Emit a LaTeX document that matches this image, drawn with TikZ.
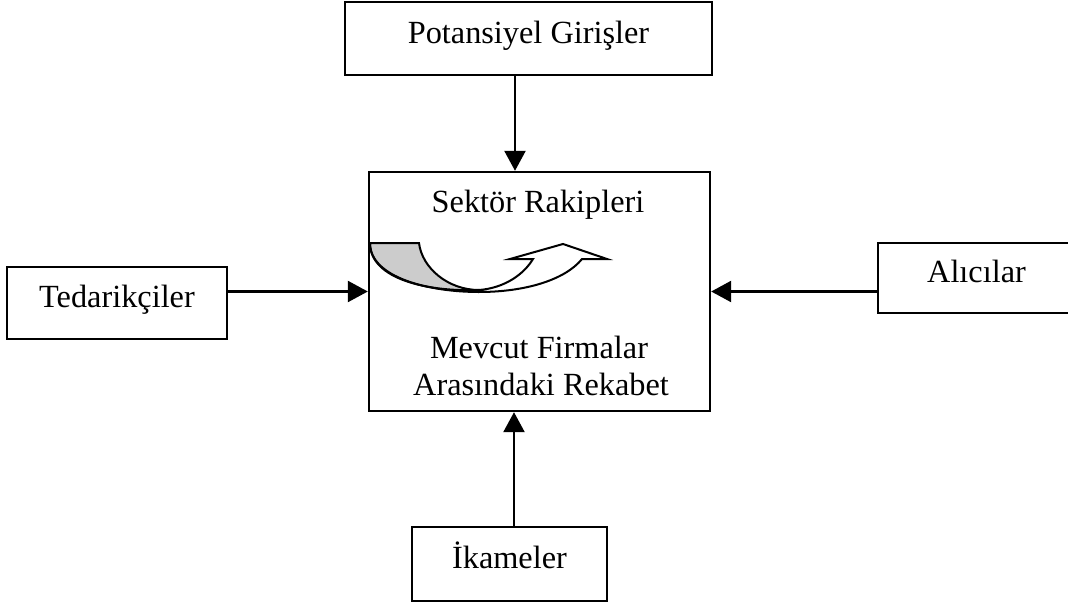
\documentclass[tikz,border=0pt]{standalone}
\usepackage{fontspec}
\setmainfont{Liberation Serif}
\usetikzlibrary{arrows.meta,calc}

\tikzset{
  force/.style={draw, line width=2.4pt, inner sep=0pt,
    text height=22pt, text depth=12.8pt},
  link/.style={line width=2.4pt, -{Triangle[length=20pt,width=21pt]}},
  body/.style={anchor=base},
  band/.style={draw, line width=2pt, line join=miter}
}

\begin{document}
\begin{tikzpicture}[x=1pt, y=-1pt, font=\fontsize{32.3}{36}\selectfont]
  \useasboundingbox (0,0) rectangle (1068,604);
  \fill[white] (0,0) rectangle (1068,604);

  % the five forces
  \node[force, minimum width=367pt, minimum height=73pt] (entry) at (528.5,38.5) {Potansiyel Girişler};
  \node[force, minimum width=341pt, minimum height=239pt] (rivals) at (539.5,291.5) {};
  \node[force, minimum width=220pt, minimum height=72pt] (supply) at (117,303) {Tedarikçiler};
  \node[force, minimum width=197pt, minimum height=70pt] (buyers) at (976.5,278) {Alıcılar};
  \node[force, minimum width=195pt, minimum height=74pt] (subst) at (509.5,564) {İkameler};

  % texts of the central box
  \node[body] (rtitle) at (538,212) {Sektör Rakipleri};
  \node[body] (rline1) at (539,358) {Mevcut Firmalar};
  \node[body] (rline2) at (541,395) {Arasındaki Rekabet};

  % curved arrow inside the central box
  \coordinate (ca) at (370,243);
  \coordinate (cb) at (419,243);
  \coordinate (cbot) at (479,292);
  \coordinate (cmeet) at (479,290);
  \coordinate (cin) at (533,259);
  \coordinate (cbarbl) at (510,259);
  \coordinate (capex) at (563,244);
  \coordinate (ctip) at (607,259);
  \coordinate (cout) at (582,259);

  \path[band, fill=gray!40]
    (ca) -- (cb) .. controls (422,268) and (448,290) .. (cmeet)
    .. controls (430,292) and (370,280) .. (ca) -- cycle;
  \path[band, fill=white]
    (cmeet) .. controls (505,288) and (524,274) .. (cin)
    -- (cbarbl) -- (capex) -- (ctip) -- (cout)
    .. controls (565,280) and (525,292) .. (cbot)
    -- cycle;
  \draw[band] (ca) .. controls (370,278) and (430,292) .. (cbot);

  % influences on the rivalry
  \coordinate (vtop) at (515,0);
  \coordinate (vbot) at (514,0);
  \draw[link] (entry.south -| vtop) -- (rivals.north -| vtop);
  \draw[link] (supply.east |- rivals.west) -- (rivals.west);
  \draw[link] (buyers.west |- rivals.east) -- (rivals.east);
  \draw[link] (subst.north -| vbot) -- (rivals.south -| vbot);
\end{tikzpicture}
\end{document}
